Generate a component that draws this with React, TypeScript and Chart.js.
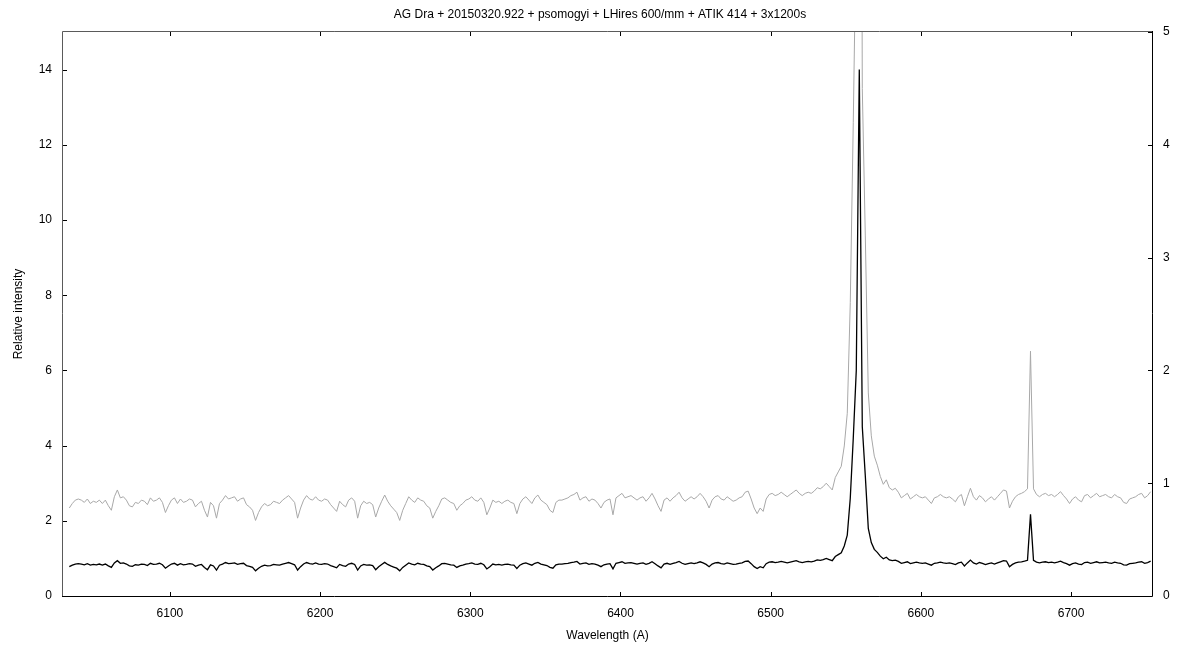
import React, { useEffect, useRef } from "react";
import { Chart, registerables } from "chart.js";

Chart.register(...registerables);

const TITLE = "AG Dra + 20150320.922 + psomogyi + LHires 600/mm + ATIK 414 + 3x1200s";
const X_LABEL = "Wavelength (A)";
const Y_LABEL = "Relative intensity";
const FONT = "'Liberation Sans', Arial, sans-serif";

// wavelength grid (Angstrom)
const WAVE_START = 6033;
const WAVE_STEP = 2;

// relative intensity, 6033–6211 A
const FLUX_A = [
  0.78, 0.82, 0.85, 0.86, 0.85, 0.83, 0.86, 0.82, 0.84, 0.83,
  0.85, 0.82, 0.85, 0.80, 0.76, 0.88, 0.94, 0.87, 0.88, 0.85,
  0.80, 0.79, 0.83, 0.82, 0.85, 0.84, 0.81, 0.87, 0.84, 0.85,
  0.87, 0.83, 0.74, 0.80, 0.85, 0.87, 0.82, 0.86, 0.83, 0.84,
  0.86, 0.85, 0.79, 0.82, 0.84, 0.76, 0.70, 0.83, 0.80, 0.69,
  0.82, 0.85, 0.89, 0.86, 0.87, 0.88, 0.84, 0.86, 0.87, 0.81,
  0.79, 0.76, 0.67, 0.74, 0.79, 0.82, 0.80, 0.81, 0.84, 0.83,
  0.82, 0.85, 0.87, 0.89, 0.86, 0.83, 0.69, 0.78, 0.85, 0.89,
  0.86, 0.85, 0.88, 0.85, 0.84, 0.86, 0.85, 0.81, 0.78, 0.75,
];
// 6213–6391 A
const FLUX_B = [
  0.84, 0.81, 0.79, 0.85, 0.87, 0.84, 0.69, 0.80, 0.84, 0.82,
  0.83, 0.81, 0.70, 0.78, 0.84, 0.895, 0.84, 0.80, 0.77, 0.74,
  0.67, 0.76, 0.82, 0.88, 0.85, 0.83, 0.87, 0.85, 0.84, 0.80,
  0.78, 0.69, 0.75, 0.80, 0.86, 0.87, 0.85, 0.83, 0.82, 0.76,
  0.80, 0.82, 0.85, 0.86, 0.88, 0.85, 0.84, 0.87, 0.83, 0.72,
  0.78, 0.85, 0.83, 0.84, 0.82, 0.84, 0.85, 0.83, 0.82, 0.73,
  0.82, 0.86, 0.88, 0.85, 0.82, 0.87, 0.895, 0.85, 0.83, 0.81,
  0.76, 0.74, 0.83, 0.85, 0.85, 0.86, 0.87, 0.89, 0.90, 0.92,
  0.85, 0.87, 0.88, 0.84, 0.86, 0.85, 0.82, 0.78, 0.83, 0.85,
];
// 6393–6551 A
const FLUX_C = [
  0.86, 0.72, 0.87, 0.89, 0.91, 0.87, 0.88, 0.89, 0.87, 0.85,
  0.87, 0.88, 0.84, 0.87, 0.91, 0.86, 0.80, 0.75, 0.85, 0.87,
  0.84, 0.87, 0.89, 0.92, 0.87, 0.84, 0.86, 0.88, 0.86, 0.88,
  0.91, 0.88, 0.84, 0.78, 0.85, 0.88, 0.89, 0.86, 0.85, 0.88,
  0.86, 0.84, 0.85, 0.87, 0.88, 0.92, 0.93, 0.86, 0.78, 0.73,
  0.78, 0.75, 0.86, 0.90, 0.91, 0.89, 0.90, 0.92, 0.90, 0.88,
  0.90, 0.92, 0.94, 0.91, 0.89, 0.91, 0.92, 0.91, 0.93, 0.96,
  0.95, 0.97, 1.00, 0.97, 0.94, 1.05, 1.10, 1.15, 1.33, 1.62,
];
// 6553–6753 A (H-alpha and He I 6678)
const FLUX_D = [
  2.6, 4.2, 6.0, 14.0, 4.5, 3.2, 1.8, 1.42, 1.24, 1.16,
  1.06, 0.99, 1.03, 0.96, 0.94, 0.955, 0.92, 0.87, 0.89, 0.91,
  0.86, 0.88, 0.90, 0.88, 0.87, 0.88, 0.85, 0.82, 0.87, 0.88,
  0.90, 0.88, 0.87, 0.88, 0.86, 0.835, 0.88, 0.90, 0.80, 0.88,
  0.955, 0.88, 0.85, 0.89, 0.87, 0.835, 0.86, 0.88, 0.85, 0.88,
  0.91, 0.94, 0.93, 0.78, 0.84, 0.88, 0.90, 0.91, 0.925, 0.95,
  2.17, 0.95, 0.90, 0.88, 0.90, 0.91, 0.89, 0.90, 0.88, 0.90,
  0.925, 0.89, 0.86, 0.82, 0.86, 0.88, 0.85, 0.835, 0.89, 0.90,
  0.87, 0.89, 0.91, 0.88, 0.89, 0.90, 0.88, 0.87, 0.90, 0.88,
  0.87, 0.83, 0.82, 0.86, 0.87, 0.88, 0.90, 0.91, 0.87, 0.89,
  0.925,
];

const FLUX = [...FLUX_A, ...FLUX_B, ...FLUX_C, ...FLUX_D];

const X_MIN = 6028.8;
const X_MAX = 6753.9;
const Y_LEFT_MAX = 15;
const Y_RIGHT_MAX = 5;

const framePlugin = {
  id: "frameTicks",
  afterDatasetsDraw(chart: any) {
    const { ctx, chartArea, scales } = chart;
    const { left, right, top, bottom } = chartArea;
    ctx.save();
    ctx.lineWidth = 1;
    ctx.strokeStyle = "#000";
    ctx.beginPath();
    for (const t of scales.x.ticks) {
      const px = Math.round(scales.x.getPixelForValue(t.value)) + 0.5;
      ctx.moveTo(px, bottom);
      ctx.lineTo(px, bottom - 4);
      ctx.moveTo(px, top);
      ctx.lineTo(px, top + 4);
    }
    for (const t of scales.y.ticks) {
      const py = Math.round(scales.y.getPixelForValue(t.value)) + 0.5;
      ctx.moveTo(left, py);
      ctx.lineTo(left + 4, py);
    }
    for (const t of scales.y2.ticks) {
      const py = Math.round(scales.y2.getPixelForValue(t.value)) + 0.5;
      ctx.moveTo(right, py);
      ctx.lineTo(right - 4, py);
    }
    ctx.stroke();
    // frame
    ctx.strokeStyle = "#5a5a5a";
    ctx.beginPath();
    ctx.moveTo(left - 0.5, bottom);
    ctx.lineTo(left - 0.5, top - 0.5);
    ctx.lineTo(right, top - 0.5);
    ctx.stroke();
    ctx.strokeStyle = "#000";
    ctx.beginPath();
    ctx.moveTo(right + 0.5, top - 1);
    ctx.lineTo(right + 0.5, bottom + 0.5);
    ctx.lineTo(left - 1, bottom + 0.5);
    ctx.stroke();
    // title
    ctx.font = `12px ${FONT}`;
    ctx.fillStyle = "#000";
    ctx.textAlign = "center";
    ctx.textBaseline = "middle";
    ctx.fillText(TITLE, chart.width / 2, 15);
    ctx.restore();
  },
};

export default function App() {
  const canvasRef = useRef<HTMLCanvasElement | null>(null);

  useEffect(() => {
    const canvas = canvasRef.current;
    if (!canvas) return;
    const points = FLUX.map((v, i) => ({ x: WAVE_START + i * WAVE_STEP, y: v }));
    const tickFont = { family: FONT, size: 12 };
    const chart = new Chart(canvas, {
      type: "line",
      data: {
        datasets: [
          {
            label: "spectrum",
            data: points,
            yAxisID: "y",
            borderColor: "#000000",
            borderWidth: 1.3,
            pointRadius: 0,
            tension: 0,
          },
          {
            label: "spectrum (x3)",
            data: points,
            yAxisID: "y2",
            borderColor: "#a8a8a8",
            borderWidth: 1,
            pointRadius: 0,
            tension: 0,
          },
        ],
      },
      options: {
        responsive: false,
        animation: false,
        events: [],
        layout: { padding: { top: 32, left: 0, right: 0, bottom: 0 } },
        plugins: {
          legend: { display: false },
          title: { display: false },
          tooltip: { enabled: false },
        },
        scales: {
          x: {
            type: "linear",
            position: "bottom",
            min: X_MIN,
            max: X_MAX,
            border: { display: false },
            grid: { display: false, drawTicks: false },
            ticks: {
              stepSize: 100,
              includeBounds: false,
              padding: 10,
              color: "#000",
              font: tickFont,
              maxRotation: 0,
              callback: (v: any) => String(v),
            },
            title: {
              display: true,
              text: X_LABEL,
              color: "#000",
              font: tickFont,
              padding: { top: 0, bottom: 3 },
            },
            afterFit: (s: any) => {
              s.height = 50;
            },
          },
          y: {
            type: "linear",
            position: "left",
            min: 0,
            max: Y_LEFT_MAX,
            border: { display: false },
            grid: { display: false, drawTicks: false },
            ticks: {
              stepSize: 2,
              includeBounds: false,
              padding: 11,
              color: "#000",
              font: tickFont,
            },
            title: {
              display: true,
              text: Y_LABEL,
              color: "#000",
              font: tickFont,
              padding: { top: 11, bottom: 0 },
            },
            afterFit: (s: any) => {
              s.width = 63;
            },
          },
          y2: {
            type: "linear",
            position: "right",
            min: 0,
            max: Y_RIGHT_MAX,
            border: { display: false },
            grid: { display: false, drawTicks: false },
            ticks: {
              stepSize: 1,
              includeBounds: false,
              padding: 11,
              color: "#000",
              font: tickFont,
            },
            afterFit: (s: any) => {
              s.width = 48;
            },
          },
        },
      },
      plugins: [framePlugin],
    });
    return () => chart.destroy();
  }, []);

  return (
    <div style={{ position: "absolute", left: 0, top: 0, width: 1200, height: 646, background: "#fff" }}>
      <canvas ref={canvasRef} width={1200} height={646} style={{ display: "block" }} />
    </div>
  );
}
